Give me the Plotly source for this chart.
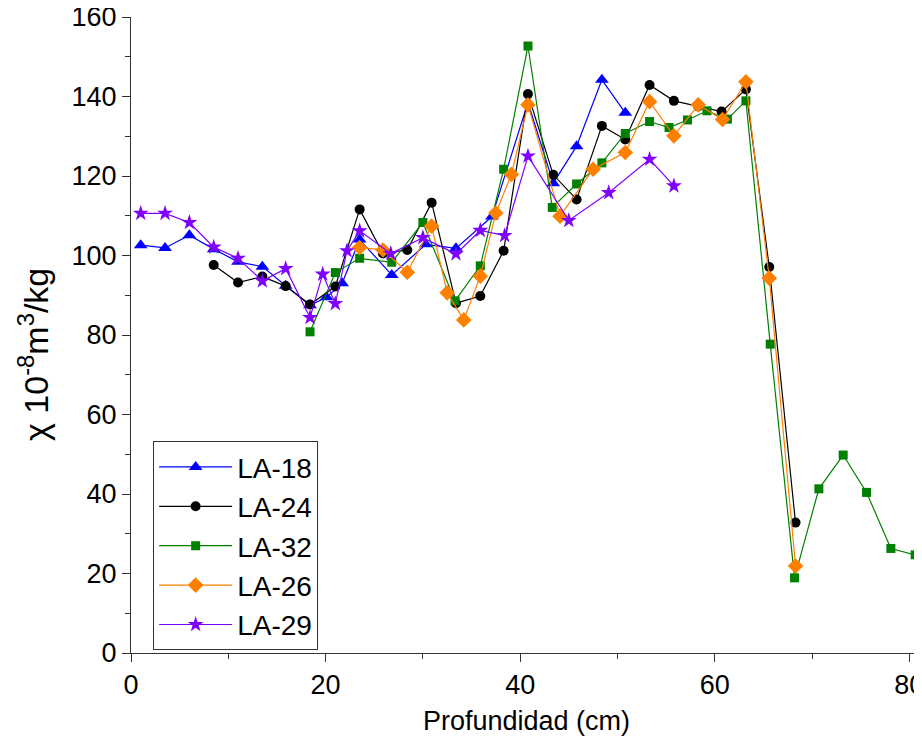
import plotly.graph_objects as go

# LA-18 (blue triangles)
x18 = [1.0, 3.5, 6.0, 8.5, 11.0, 13.5, 15.9, 18.4, 20.1, 21.7, 23.5, 26.8, 30.3, 33.4, 37.1, 40.8, 43.4, 45.8, 48.4, 50.8]
y18 = [102.6, 101.9, 105.1, 101.6, 98.4, 97.2, 92.4, 87.5, 89.5, 93.0, 104.0, 95.1, 102.8, 101.8, 109.8, 138.5, 118.2, 127.5, 144.2, 135.9]

# LA-24 (black circles)
x24 = [8.5, 11.0, 13.5, 15.9, 18.4, 21.0, 23.5, 25.9, 28.4, 30.9, 33.4, 35.9, 38.3, 40.8, 43.4, 45.8, 48.4, 50.8, 53.3, 55.8, 58.3, 60.7, 63.2, 65.6, 68.3]
y24 = [97.6, 93.2, 94.7, 92.3, 87.7, 92.2, 111.6, 100.5, 101.4, 113.3, 88.0, 89.8, 101.2, 140.6, 120.3, 114.1, 132.6, 129.2, 142.9, 138.9, 137.5, 136.2, 141.8, 97.1, 32.8]

# LA-32 (green squares)
x32 = [18.4, 21.0, 23.5, 26.8, 30.0, 33.3, 35.9, 38.3, 40.8, 43.3, 45.8, 48.4, 50.8, 53.3, 55.3, 57.2, 59.2, 61.3, 63.2, 65.7, 68.2, 70.7, 73.2, 75.6, 78.1, 80.6]
y32 = [80.8, 95.7, 99.3, 98.3, 108.3, 88.6, 97.4, 121.7, 152.7, 112.1, 118.0, 123.3, 130.7, 133.7, 132.2, 134.1, 136.4, 134.3, 138.9, 77.7, 18.9, 41.3, 49.8, 40.4, 26.3, 24.7]

# LA-26 (orange diamonds)
x26 = [23.5, 25.9, 28.4, 30.9, 32.5, 34.2, 35.9, 37.5, 39.1, 40.8, 44.1, 47.5, 50.8, 53.3, 55.8, 58.3, 60.8, 63.2, 65.6, 68.3]
y26 = [102.0, 101.4, 95.8, 107.4, 90.6, 83.8, 94.8, 110.7, 120.4, 137.9, 109.9, 121.7, 125.9, 138.7, 130.1, 137.9, 134.2, 143.7, 94.3, 21.9]

# LA-29 (purple stars)
x29 = [1.0, 3.5, 6.0, 8.5, 11.0, 13.5, 15.9, 18.4, 19.7, 21.0, 22.2, 23.5, 26.7, 30.0, 33.4, 35.9, 38.4, 40.8, 45.0, 49.1, 53.3, 55.8]
y29 = [110.6, 110.6, 108.3, 102.1, 99.3, 93.6, 96.7, 84.4, 95.3, 87.9, 101.2, 106.2, 100.5, 104.5, 100.4, 106.3, 105.0, 125.0, 108.8, 115.8, 124.2, 117.5]

series = [
    ("LA-18", x18, y18, "#0000FF", "triangle-up", 12),
    ("LA-24", x24, y24, "#000000", "circle", 10),
    ("LA-32", x32, y32, "#008000", "square", 9),
    ("LA-26", x26, y26, "#FF8000", "diamond", 12),
    ("LA-29", x29, y29, "#8000FF", "star", 12),
]

fig = go.Figure()
for name, xs, ys, col, sym, sz in series:
    fig.add_trace(go.Scatter(
        x=xs, y=ys, name=name, mode="lines+markers",
        line=dict(color=col, width=1.2),
        marker=dict(color=col, symbol=sym, size=sz, line=dict(width=0)),
    ))

font = "Liberation Sans, Arial, sans-serif"
fig.update_layout(
    width=914, height=730,
    margin=dict(l=123, r=0, t=9, b=85, autoexpand=False),
    paper_bgcolor="white", plot_bgcolor="white",
    font=dict(family=font, size=27, color="black"),
    showlegend=True,
    legend=dict(
        x=0.028, y=0.333, xanchor="left", yanchor="top",
        bordercolor="#333333", borderwidth=1, bgcolor="white",
        font=dict(size=28, family=font), itemwidth=73,
        tracegroupgap=0,
    ),
    xaxis=dict(
        range=[0, 81.3], showgrid=False, zeroline=False, automargin=False,
        showline=True, linecolor="#333333", linewidth=1,
        ticks="outside", ticklen=8, tickcolor="#333333",
        tickmode="array", tickvals=[0, 20, 40, 60, 80],
        minor=dict(tickmode="array", tickvals=[10, 30, 50, 70], ticks="outside", ticklen=5, tickcolor="#333333"),
        tickfont=dict(size=27), ticklabeloverflow="allow",
        title=dict(text="Profundidad (cm)", font=dict(size=27), standoff=11),
    ),
    yaxis=dict(
        range=[0, 160], showgrid=False, zeroline=False, automargin=False,
        showline=True, linecolor="#333333", linewidth=1,
        ticks="outside", ticklen=8, tickcolor="#333333",
        tickmode="array", tickvals=[0, 20, 40, 60, 80, 100, 120, 140, 160],
        minor=dict(tickmode="array", tickvals=[10, 30, 50, 70, 90, 110, 130, 150], ticks="outside", ticklen=5, tickcolor="#333333"),
        tickfont=dict(size=27), ticklabeloverflow="allow",
    ),
    annotations=[dict(
        text="χ 10<sup>-8</sup>m<sup>3</sup>/kg", textangle=-90,
        xref="paper", yref="paper", x=-0.124, y=0.47,
        xanchor="center", yanchor="middle", showarrow=False,
        font=dict(size=34, family=font, color="black"),
    )],
)

fig.write_html("out.html")
